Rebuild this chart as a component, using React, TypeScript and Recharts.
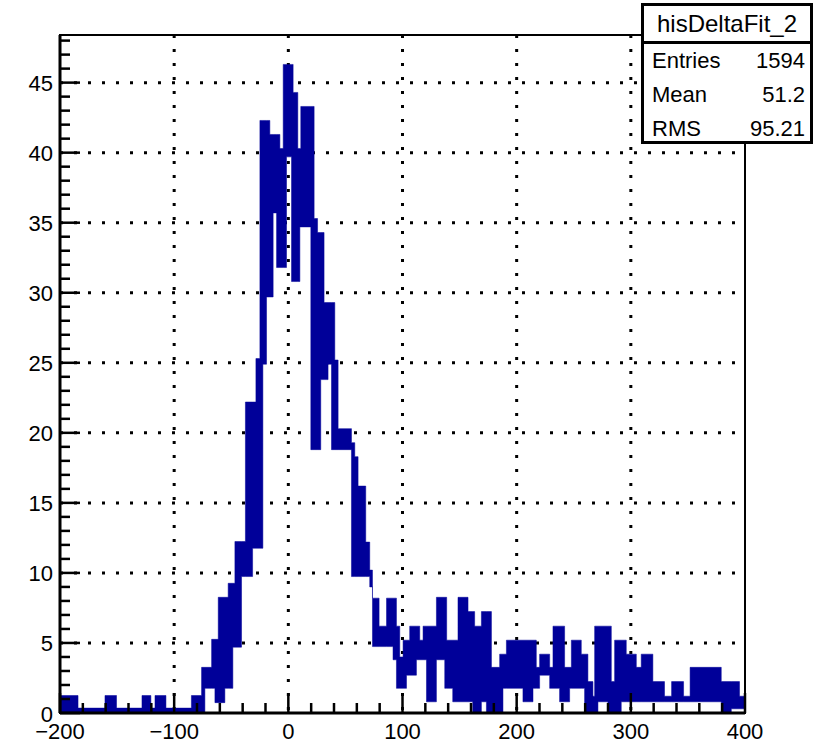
import {
  Area,
  CartesianGrid,
  ComposedChart,
  ReferenceArea,
  XAxis,
  YAxis,
} from "recharts";

// step edges of the band (x in histogram units), with its lower and upper level
const edges = [
  -200, -184.2, -160.6, -150.5, -128.2, -120.4, -116.8, -107.2, -84.9, -76.0,
  -73.1, -67.2, -64.3, -61.4, -55.6, -52.7, -48.6, -46.8, -41.0, -37.6, -31.3,
  -28.4, -24.9, -22.3, -19.1, -16.2, -13.3, -10.3, -7.4, -4.5, -1.6, 2.8, 4.2,
  8.3, 10.1, 10.9, 19.7, 22.6, 25.6, 28.4, 31.3, 34.8, 37.8, 40.7, 43.6, 55.3,
  58.2, 61.1, 67.8, 71.3, 73.7, 79.5, 86.0, 91.7, 94.7, 97.6, 100.5, 103.5,
  106.3, 112.2, 115.1, 118.0, 121.0, 129.7, 137.0, 138.7, 144.0, 148.6, 157.4,
  161.5, 163.2, 169.1, 173.5, 177.9, 185.1, 188.0, 191.0, 205.5, 214.3, 217.2,
  220.1, 228.9, 231.8, 237.6, 242.0, 246.4, 247.9, 256.6, 259.5, 262.4, 266.8,
  268.3, 271.2, 279.9, 282.9, 285.8, 291.6, 296.0, 304.8, 309.1, 319.3, 329.5,
  335.7, 346.2, 351.9, 379.2, 388.0, 395.2, 400,
];

const low = [
  0, 0, 0, 0, 0, 0, 0, 0, 0, 0, 1.76, 1.76, 0.74, 0.74, 1.76, 1.76, 4.7, 4.7,
  9.74, 9.74, 11.76, 11.76, 11.76, 24.9, 29.7, 29.7, 35.7, 31.8, 31.8, 31.8,
  39.7, 30.8, 30.8, 30.8, 34.7, 34.7, 18.8, 18.8, 18.8, 23.8, 23.8, 24.9, 18.8,
  18.8, 18.8, 9.74, 9.74, 9.74, 9.74, 9.0, 4.74, 4.74, 4.74, 3.8, 1.76, 1.76,
  1.76, 2.7, 2.7, 3.8, 3.8, 3.8, 0.8, 3.8, 1.76, 1.76, 0.8, 0.8, 0.8, 0, 0, 0.8,
  0, 0, 0, 1.76, 1.76, 0.8, 1.76, 1.76, 2.7, 1.76, 1.76, 0.8, 0.8, 1.76, 1.76,
  1.76, 0, 0, 0, 0, 0.8, 0, 0, 0, 0.8, 0.8, 0.8, 0.8, 0.8, 0.8, 0.8, 0.8, 0.8, 0,
  0.3, 0.3, 0.3,
];

const high = [
  1.25, 0.35, 1.25, 0.35, 1.25, 0.35, 1.25, 0.35, 1.25, 3.26, 3.26, 5.26, 5.26,
  8.26, 8.26, 9.26, 9.26, 12.24, 12.24, 22.2, 22.2, 25.3, 42.3, 42.3, 42.3,
  41.3, 41.3, 41.3, 40.3, 46.3, 46.3, 46.3, 44.3, 40.3, 40.3, 43.3, 43.3, 35.3,
  34.3, 34.3, 29.3, 29.3, 29.3, 25.2, 20.3, 19.3, 18.3, 16.2, 12.2, 10.2, 8.2,
  6.2, 8.2, 8.2, 6.2, 4.0, 5.2, 5.2, 6.2, 6.2, 5.2, 6.2, 6.2, 8.26, 8.26, 5.2,
  5.2, 8.26, 7.24, 7.24, 6.2, 7.24, 7.24, 3.26, 4.2, 4.2, 5.2, 5.2, 5.2, 3.26,
  4.2, 3.26, 6.2, 6.2, 3.26, 3.26, 5.2, 4.2, 4.2, 2.24, 1.2, 6.2, 6.2, 6.2, 2.24,
  5.2, 5.2, 4.2, 3.26, 4.2, 2.24, 1.2, 2.24, 1.2, 3.26, 2.24, 2.24, 1.2, 1.2,
];

// axis ticks: minor every 20 on x, every 1 on y
const xTicks = [
  -200, -180, -160, -140, -120, -100, -80, -60, -40, -20, 0, 20, 40, 60, 80,
  100, 120, 140, 160, 180, 200, 220, 240, 260, 280, 300, 320, 340, 360, 380,
  400,
];
const yTicks = Array.from({ length: 49 }, (_, i) => i);
const xGrid = [-100, 0, 100, 200, 300];
const yGrid = [5, 10, 15, 20, 25, 30, 35, 40, 45];

const stats = [
  ["Entries", "1594"],
  ["Mean", "51.2"],
  ["RMS", "95.21"],
];

const FONT = "'Liberation Sans', Arial, Helvetica, sans-serif";
const BLUE = "#000099";

const data = edges.map((x, i) => ({ x, band: [low[i], high[i]] }));

const fmt = (v: number) => (v < 0 ? "\u2212" + Math.abs(v) : String(v));

const XTick = (props: any) => {
  const { x, y, payload } = props;
  const v = payload.value;
  const major = v % 100 === 0;
  return (
    <g>
      <line
        x1={x}
        x2={x}
        y1={y}
        y2={y - (major ? 20 : 10)}
        stroke="#000"
        strokeWidth={2.5}
      />
      {major && (
        <text
          x={x}
          y={y + 18}
          textAnchor="middle"
          dominantBaseline="central"
          fontFamily={FONT}
          fontSize={22}
          fill="#000"
        >
          {fmt(v)}
        </text>
      )}
    </g>
  );
};

const YTick = (props: any) => {
  const { x, y, payload } = props;
  const v = payload.value;
  const major = v % 5 === 0;
  return (
    <g>
      <line
        x1={x}
        x2={x + (major ? 20 : 10)}
        y1={y}
        y2={y}
        stroke="#000"
        strokeWidth={2.5}
      />
      {major && (
        <text
          x={x - 7}
          y={y + 1}
          textAnchor="end"
          dominantBaseline="central"
          fontFamily={FONT}
          fontSize={22}
          fill="#000"
        >
          {v}
        </text>
      )}
    </g>
  );
};

const StatsBox = () => (
  <div
    style={{
      position: "absolute",
      left: 641,
      top: 3,
      width: 166,
      height: 135,
      border: "3px solid #000",
      background: "#fff",
      fontFamily: FONT,
      color: "#000",
    }}
  >
    <div
      style={{
        height: 35,
        borderBottom: "3px solid #000",
        fontSize: 24,
        lineHeight: "35px",
        textAlign: "center",
      }}
    >
      hisDeltaFit_2
    </div>
    {stats.map(([name, val]) => (
      <div
        key={name}
        style={{
          display: "flex",
          justifyContent: "space-between",
          height: 34,
          lineHeight: "34px",
          fontSize: 22,
          padding: "0 5px 0 8px",
        }}
      >
        <span>{name}</span>
        <span>{val}</span>
      </div>
    ))}
  </div>
);

export default function App() {
  return (
    <div
      style={{
        position: "absolute",
        left: 0,
        top: 0,
        width: 824,
        height: 748,
        background: "#fff",
      }}
    >
      <ComposedChart
        width={824}
        height={748}
        data={data}
        margin={{ top: 35, right: 79, bottom: 0, left: 0 }}
      >
        <CartesianGrid
          horizontalValues={yGrid}
          verticalValues={xGrid}
          stroke="#000"
          strokeWidth={3}
          strokeDasharray="3 11"
        />
        <XAxis
          dataKey="x"
          type="number"
          domain={[-200, 400]}
          ticks={xTicks}
          interval={0}
          height={35}
          tickSize={0}
          tickMargin={0}
          tickLine={false}
          axisLine={{ stroke: "#000", strokeWidth: 3 }}
          tick={(p: any) => <XTick {...p} />}
        />
        <YAxis
          type="number"
          domain={[0, 48.4]}
          ticks={yTicks}
          interval={0}
          width={60}
          allowDataOverflow
          tickSize={0}
          tickMargin={0}
          tickLine={false}
          axisLine={{ stroke: "#000", strokeWidth: 3 }}
          tick={(p: any) => <YTick {...p} />}
        />
        <Area
          type="stepAfter"
          dataKey="band"
          fill={BLUE}
          fillOpacity={1}
          stroke={BLUE}
          strokeWidth={0.5}
          dot={false}
          activeDot={false}
          isAnimationActive={false}
        />
        <ReferenceArea
          x1={-200}
          x2={400}
          y1={0}
          y2={48.4}
          fill="none"
          stroke="#000"
          strokeWidth={2}
        />
      </ComposedChart>
      <StatsBox />
    </div>
  );
}
